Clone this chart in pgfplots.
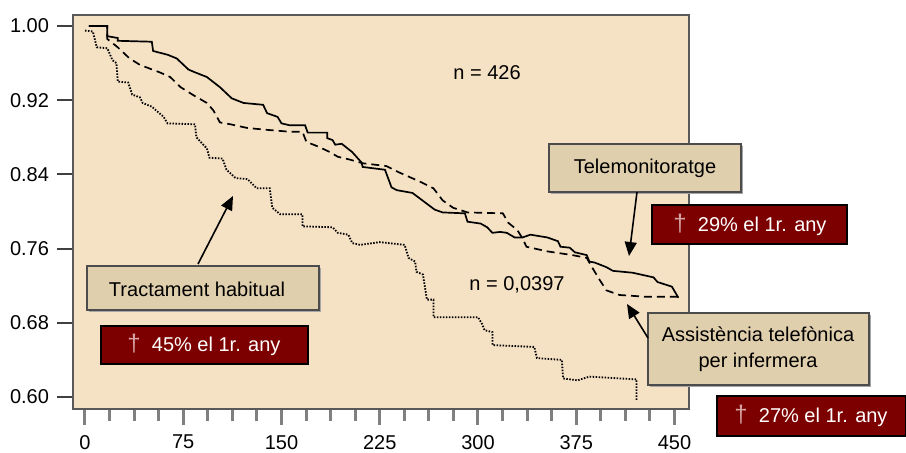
\documentclass[border=0pt]{standalone}
\usepackage{fontspec}
\setmainfont{Liberation Sans}
\usepackage{pgfplots}
\pgfplotsset{compat=1.18}
\usetikzlibrary{arrows.meta}
\definecolor{bg}{RGB}{245,225,195}
\definecolor{tanbox}{RGB}{224,207,172}
\definecolor{darkred}{RGB}{125,0,0}
\definecolor{dag}{RGB}{215,165,165}
\begin{document}
\begin{tikzpicture}
\path[use as bounding box] (0,0) rectangle (453pt,-226.5pt);
\begin{axis}[
  at={(36.5pt,-204.5pt)}, anchor=south west,
  scale only axis, width=307.75pt, height=196.85pt,
  xmin=-9.16, xmax=460.7, ymin=0.5871, ymax=1.0115,
  axis background/.style={fill=bg},
  axis line style={draw=black!65, line width=1pt},
  xtick={0,75,...,450}, minor x tick num=3,
  ytick={0.60,0.68,0.76,0.84,0.92,1.00},
  yticklabel style={xshift=-0.5pt, /pgf/number format/.cd, fixed, fixed zerofill, precision=2},
  /pgf/number format/assume math mode=true,
  tick label style={font=\fontsize{10}{12}\selectfont},
  xticklabel style={yshift=-1.5pt},
  tick align=outside, xtick pos=bottom, ytick pos=left,
  major tick length=8pt, minor tick length=6pt,
  xtick style={draw=black!50, line width=1.5pt},
  ytick style={draw=black!75, line width=1pt},
]
% Telemonitoratge (solid)
\addplot[black, line width=0.85pt] coordinates {
(3,1.000) (17,1.000) (17,0.989) (25,0.987) (25,0.984) (51,0.983) (52,0.973)
(63,0.969) (70,0.965) (79,0.953) (84,0.950) (93,0.945) (103,0.934) (112,0.922)
(121,0.917) (136,0.915) (139,0.906) (147,0.902) (150,0.895) (156,0.893)
(168,0.893) (170,0.885) (185,0.885) (185,0.879) (189,0.877) (191,0.872)
(196,0.873) (204,0.864) (211,0.853) (212,0.848) (229,0.845) (234,0.826)
(238,0.823) (250,0.820) (267,0.802) (273,0.799) (290,0.798) (292,0.789)
(302,0.787) (307,0.783) (311,0.777) (317,0.778) (322,0.777) (328,0.772)
(334,0.772) (340,0.775) (353,0.772) (361,0.768) (363,0.762) (370,0.761)
(374,0.756) (383,0.753) (385,0.746) (389,0.745) (398,0.740) (403,0.736)
(418,0.734) (434,0.729) (437,0.724) (448,0.719) (453,0.707)
};
% Assistencia telefonica (dashed)
\addplot[black, line width=0.85pt, dash pattern=on 4pt off 2.5pt] coordinates {
(3,1.000) (17,1.000) (17,0.986) (25,0.977) (34,0.965) (42,0.958) (57,0.950)
(65,0.945) (73,0.934) (82,0.926) (93,0.917) (98,0.909) (103,0.896) (111,0.894)
(124,0.890) (139,0.888) (156,0.886) (166,0.886) (169,0.875) (178,0.870)
(187,0.864) (193,0.859) (202,0.856) (212,0.852) (230,0.849) (240,0.842)
(256,0.832) (266,0.825) (273,0.812) (281,0.804) (292,0.799) (319,0.798)
(323,0.788) (330,0.780) (334,0.771) (337,0.762) (353,0.757) (372,0.753)
(383,0.750) (387,0.740) (393,0.726) (398,0.715) (408,0.710) (429,0.708)
(454,0.708)
};
% Tractament habitual (dotted)
\addplot[black, line width=0.9pt, dash pattern=on 0.75pt off 0.75pt] coordinates {
(0,0.995) (6,0.994) (9,0.977) (17,0.976) (21,0.963) (24,0.960) (25,0.940)
(33,0.939) (36,0.926) (42,0.923) (44,0.917) (51,0.913) (60,0.902) (63,0.895)
(84,0.894) (85,0.880) (93,0.868) (95,0.858) (105,0.857) (108,0.845)
(115,0.836) (124,0.835) (131,0.825) (141,0.825) (143,0.804) (149,0.797)
(166,0.797) (166,0.784) (189,0.783) (193,0.777) (201,0.775) (204,0.766)
(210,0.764) (225,0.767) (244,0.764) (247,0.750) (252,0.746) (253,0.735)
(258,0.732) (261,0.705) (266,0.705) (266,0.686) (300,0.686) (303,0.679)
(305,0.672) (311,0.670) (311,0.656) (343,0.654) (345,0.642) (364,0.640)
(365,0.620) (376,0.618) (385,0.622) (421,0.619) (421,0.597)
};
\end{axis}
\begin{scope}[x=0.5pt, y=-0.5pt, font=\fontsize{10}{12}\selectfont]
  % tan boxes
  \fill[black!35] (551,146) rectangle (743,194);
  \draw[fill=tanbox, draw=black!70, line width=1pt] (549,144) rectangle (741,192);
  \node at (645,168) {Telemonitoratge};
  \fill[black!35] (89,268) rectangle (321,312);
  \draw[fill=tanbox, draw=black!70, line width=1pt] (87,266) rectangle (319,310);
  \node at (197,289) {Tractament habitual};
  \fill[black!35] (650,315) rectangle (871,387);
  \draw[fill=tanbox, draw=black!70, line width=1pt] (648,313) rectangle (869,385);
  \node[align=center, inner sep=0pt] at (758,349) {Assistència telefònica\\[1pt]per infermera};
  % red boxes
  \draw[fill=darkred, draw=black, line width=0.8pt] (652,205) rectangle (847,244);
  \node[text=white] at (750,225) {{\color{dag}\large†}\ \ 29\% el 1r. any};
  \draw[fill=darkred, draw=black, line width=0.8pt] (101,326) rectangle (308,364);
  \node[text=white] at (204,345) {{\color{dag}\large†}\ \ 45\% el 1r. any};
  \draw[fill=darkred, draw=black, line width=0.8pt] (717,396) rectangle (906,436);
  \node[text=white] at (811,416) {{\color{dag}\large†}\ \ 27\% el 1r. any};
  % arrows
  \draw[line width=0.8pt, -{Triangle[length=7pt,width=6pt]}] (198,264) -- (233,196);
  \draw[line width=0.8pt, -{Triangle[length=7pt,width=6pt]}] (637,192) -- (629,256);
  \draw[line width=0.8pt, -{Triangle[length=7pt,width=6pt]}] (648,338) -- (627,304);
  % texts
  \node at (487,73) {n = 426};
  \node at (517,285) {n = 0,0397};
\end{scope}
\end{tikzpicture}
\end{document}
